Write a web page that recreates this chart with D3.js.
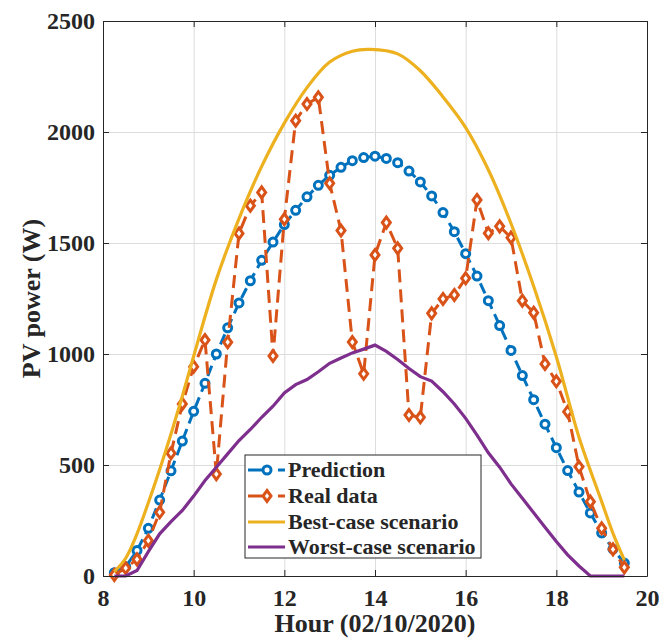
<!DOCTYPE html>
<html>
<head>
<meta charset="utf-8">
<script src="https://cdn.jsdelivr.net/npm/d3@7"></script>
<style>
    body { margin: 0; background: #fff; }
    svg text { font-family: "Liberation Serif", "Times New Roman", serif; font-weight: bold; fill: #262626; }
    .grid line { stroke: #dcdcdc; stroke-width: 1; }
    .grid path { display: none; }
    .axis path, .axis line { stroke: #262626; stroke-width: 1; }
</style>
</head>
<body>
<script>
//Time of day (hours), one point every quarter hour.
const hours = [8.25, 8.5, 8.75, 9, 9.25, 9.5, 9.75, 10, 10.25, 10.5, 10.75, 11, 11.25, 11.5, 11.75, 12,
    12.25, 12.5, 12.75, 13, 13.25, 13.5, 13.75, 14, 14.25, 14.5, 14.75, 15, 15.25, 15.5, 15.75, 16,
    16.25, 16.5, 16.75, 17, 17.25, 17.5, 17.75, 18, 18.25, 18.5, 18.75, 19, 19.25, 19.5];

const prediction = [15, 42, 115, 215, 342, 474, 608, 742, 868, 1000, 1118, 1230, 1330, 1422, 1504, 1583,
    1647, 1708, 1760, 1805, 1841, 1871, 1885, 1891, 1881, 1862, 1824, 1775, 1712, 1637, 1551, 1452,
    1351, 1240, 1128, 1016, 903, 794, 684, 578, 475, 378, 284, 194, 121, 58];

const realData = [5, 36, 75, 159, 287, 553, 775, 943, 1063, 459, 1053, 1543, 1668, 1728, 991, 1607,
    2051, 2126, 2156, 1769, 1556, 1054, 911, 1446, 1592, 1476, 725, 715, 1183, 1248, 1266, 1341,
    1694, 1544, 1575, 1524, 1240, 1186, 955, 877, 740, 492, 335, 215, 120, 39];

const bestHours = [8.25, 8.5, 8.75, 9, 9.25, 9.5, 9.75, 10, 10.5, 11, 11.5, 12, 12.5, 13, 13.5, 13.9,
    14.5, 15, 15.5, 16, 16.5, 17, 17.5, 18, 18.5, 19, 19.25, 19.5];
const bestCase = [20, 80, 190, 330, 480, 640, 810, 990, 1335, 1610, 1845, 2040, 2200, 2315, 2364, 2372,
    2352, 2276, 2158, 2020, 1830, 1588, 1305, 988, 625, 335, 192, 72];

const worstCase = [0, 0, 25, 110, 190, 245, 295, 360, 430, 490, 550, 610, 660, 715, 765, 825,
    862, 885, 920, 958, 982, 1005, 1022, 1040, 1012, 975, 935, 898, 878, 830, 775, 710,
    635, 555, 490, 415, 350, 285, 220, 155, 95, 45, 0, 0, 0, 0];

const xTicks = [8, 10, 12, 14, 16, 18, 20];
const yTicks = [0, 500, 1000, 1500, 2000, 2500];

const legendLabels = ["Prediction", "Real data", "Best-case scenario", "Worst-case scenario"];

//Useful constants for the SVG element.
const width = 659;
const height = 644;
const plotLeft = 103, plotRight = 647, plotTop = 21, plotBottom = 576;
const serif = "Liberation Serif, Times New Roman, serif";

const colors = { pred: "#0072BD", real: "#D95319", best: "#EDB120", worst: "#7E2F8E" };

const svg = d3.select("body").append("svg").attr("width", width).attr("height", height);

//Scales.
const xScale = d3.scaleLinear().domain([8, 20]).range([plotLeft, plotRight]);
const yScale = d3.scaleLinear().domain([0, 2500]).range([plotBottom, plotTop]);

//Grid lines.
svg.append("g").attr("class", "grid")
    .attr("transform", "translate(0," + plotBottom + ")")
    .call(d3.axisBottom(xScale).tickValues(xTicks).tickSize(-(plotBottom - plotTop)).tickFormat(""));
svg.append("g").attr("class", "grid")
    .attr("transform", "translate(" + plotLeft + ",0)")
    .call(d3.axisLeft(yScale).tickValues(yTicks).tickSize(-(plotRight - plotLeft)).tickFormat(""));

//Line generators.
const lineFrom = (xs) => d3.line()
    .x((d, i) => xScale(xs[i]))
    .y((d) => yScale(d));

const plot = svg.append("g");

//Prediction (dashed with circles).
plot.append("path")
    .datum(prediction)
    .attr("d", lineFrom(hours))
    .attr("fill", "none")
    .attr("stroke", colors.pred)
    .attr("stroke-width", 3)
    .attr("stroke-dasharray", "11,6");

plot.selectAll(".predDot")
    .data(prediction)
    .enter()
    .append("circle")
    .attr("class", "predDot")
    .attr("cx", (d, i) => xScale(hours[i]))
    .attr("cy", (d) => yScale(d))
    .attr("r", 4)
    .attr("fill", "#fff")
    .attr("stroke", colors.pred)
    .attr("stroke-width", 3);

//Real data (dashed with diamonds).
plot.append("path")
    .datum(realData)
    .attr("d", lineFrom(hours))
    .attr("fill", "none")
    .attr("stroke", colors.real)
    .attr("stroke-width", 3)
    .attr("stroke-dasharray", "13,7");

const diamond = "M0,-5.5L4,0L0,5.5L-4,0Z";
plot.selectAll(".realDot")
    .data(realData)
    .enter()
    .append("path")
    .attr("class", "realDot")
    .attr("d", diamond)
    .attr("transform", (d, i) => "translate(" + xScale(hours[i]) + "," + yScale(d) + ")")
    .attr("fill", "#fff")
    .attr("stroke", colors.real)
    .attr("stroke-width", 3);

//Best-case scenario.
plot.append("path")
    .datum(bestCase)
    .attr("d", lineFrom(bestHours).curve(d3.curveCatmullRom))
    .attr("fill", "none")
    .attr("stroke", colors.best)
    .attr("stroke-width", 3.2);

//Worst-case scenario.
plot.append("path")
    .datum(worstCase)
    .attr("d", lineFrom(hours))
    .attr("fill", "none")
    .attr("stroke", colors.worst)
    .attr("stroke-width", 3.2);

//Axes (box with inward ticks).
svg.append("g").attr("class", "axis")
    .attr("transform", "translate(0," + plotBottom + ")")
    .call(d3.axisBottom(xScale).tickValues(xTicks).tickFormat(d3.format("d"))
        .tickSizeInner(-6).tickSizeOuter(0).tickPadding(13));
svg.append("g").attr("class", "axis")
    .attr("transform", "translate(0," + plotTop + ")")
    .call(d3.axisTop(xScale).tickValues(xTicks).tickSizeInner(-6).tickSizeOuter(0).tickFormat(""));
svg.append("g").attr("class", "axis")
    .attr("transform", "translate(" + plotLeft + ",0)")
    .call(d3.axisLeft(yScale).tickValues(yTicks).tickFormat(d3.format("d"))
        .tickSizeInner(-6).tickSizeOuter(0).tickPadding(8));
svg.append("g").attr("class", "axis")
    .attr("transform", "translate(" + plotRight + ",0)")
    .call(d3.axisRight(yScale).tickValues(yTicks).tickSizeInner(-6).tickSizeOuter(0).tickFormat(""));

svg.selectAll(".axis")
    .attr("font-family", serif)
    .attr("font-size", 24)
    .attr("font-weight", "bold");
svg.selectAll(".axis text").attr("fill", "#262626");

//Axis titles.
svg.append("text")
    .attr("x", (plotLeft + plotRight) / 2)
    .attr("y", 632)
    .attr("text-anchor", "middle")
    .attr("font-size", 26)
    .text("Hour (02/10/2020)");

svg.append("text")
    .attr("transform", "translate(40," + (plotTop + plotBottom) / 2 + ") rotate(-90)")
    .attr("text-anchor", "middle")
    .attr("font-size", 26)
    .text("PV power (W)");

//Legend.
const legend = svg.append("g").attr("id", "legend");
legend.append("rect")
    .attr("x", 245).attr("y", 455)
    .attr("width", 236).attr("height", 103)
    .attr("fill", "#fff")
    .attr("stroke", "#262626")
    .attr("stroke-width", 1);

const rowY = [470, 496, 522, 547];
const legendStyles = [
    { color: colors.pred, dash: "14,16,7", marker: "circle" },
    { color: colors.real, dash: "14,16,7", marker: "diamond" },
    { color: colors.best, dash: null, marker: null },
    { color: colors.worst, dash: null, marker: null }
];

legendLabels.forEach((label, i) => {
    const s = legendStyles[i];
    legend.append("line")
        .attr("x1", 248).attr("x2", 285)
        .attr("y1", rowY[i]).attr("y2", rowY[i])
        .attr("stroke", s.color)
        .attr("stroke-width", 3)
        .attr("stroke-dasharray", s.dash);
    if (s.marker === "circle") {
        legend.append("circle")
            .attr("cx", 267).attr("cy", rowY[i]).attr("r", 4)
            .attr("fill", "#fff").attr("stroke", s.color).attr("stroke-width", 3);
    } else if (s.marker === "diamond") {
        legend.append("path")
            .attr("d", diamond)
            .attr("transform", "translate(267," + rowY[i] + ")")
            .attr("fill", "#fff").attr("stroke", s.color).attr("stroke-width", 3);
    }
    legend.append("text")
        .attr("x", 288)
        .attr("y", rowY[i])
        .attr("dy", "0.33em")
        .attr("font-size", 22)
        .text(label);
});
</script>
</body>
</html>
